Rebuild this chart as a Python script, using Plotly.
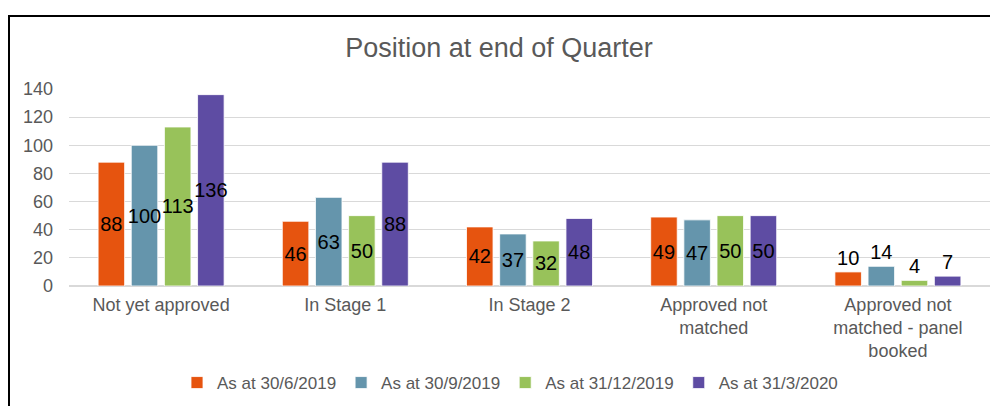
import plotly.graph_objects as go

categories = [
    'Not yet approved',
    'In Stage 1',
    'In Stage 2',
    'Approved not<br>matched',
    'Approved not<br>matched - panel<br>booked',
]
series_names = ['As at 30/6/2019', 'As at 30/9/2019', 'As at 31/12/2019', 'As at 31/3/2020']
q2_2019 = [88, 46, 42, 49, 10]
q3_2019 = [100, 63, 37, 47, 14]
q4_2019 = [113, 50, 32, 50, 4]
q1_2020 = [136, 88, 48, 50, 7]

colors = ['#E6540F', '#6595AC', '#98C25A', '#5E4CA3']
grey = '#595959'
font_family = 'Liberation Sans, Arial, sans-serif'

# the page puts the figure 8px in from the top-left, so work in page pixels
OFF = 8
W, H = 998 - OFF, 406 - OFF
plot_left, plot_right, plot_top, plot_bottom = 69, 990, 89, 286   # page px
L = plot_left - OFF
R = (W + OFF) - plot_right
T = plot_top - OFF
B = (H + OFF) - plot_bottom
pw, ph = plot_right - plot_left, plot_bottom - plot_top


def px_x(x):
    return (x - plot_left) / pw


def px_y(y):
    return (plot_bottom - y) / ph


fig = go.Figure()
for name, vals, col in zip(series_names, [q2_2019, q3_2019, q4_2019, q1_2020], colors):
    # last group is too short for labels inside the bar
    pos = ['inside'] * (len(vals) - 1) + ['outside']
    fig.add_trace(go.Bar(
        x=categories, y=vals, name=name,
        marker=dict(color=col, line=dict(color='white', width=0.8)),
        text=vals, textposition=pos, insidetextanchor='middle',
        textangle=0, constraintext='none', cliponaxis=False,
        textfont=dict(color='black', size=20, family=font_family),
    ))

fig.update_layout(
    width=W, height=H,
    margin=dict(l=L, r=R, t=T, b=B, autoexpand=False),
    paper_bgcolor='white', plot_bgcolor='white',
    barmode='group', bargap=0.28, bargroupgap=0.2,
    font=dict(family=font_family, color=grey, size=18),
    title=dict(text='Position at end of Quarter', x=(499 - OFF) / W, xanchor='center',
               y=1 - (48 - OFF) / H, yanchor='middle', yref='container',
               font=dict(size=27, color=grey, family=font_family)),
    legend=dict(orientation='h', x=px_x(510), xanchor='center',
                y=px_y(383), yanchor='middle',
                font=dict(size=17, color=grey), itemwidth=30, tracegroupgap=0),
    showlegend=True,
)
fig.update_yaxes(range=[0, 140], dtick=20, showgrid=True, gridcolor='#D9D9D9',
                 gridwidth=1, zeroline=True, zerolinecolor='#D9D9D9',
                 showline=False, ticklabelstandoff=15, automargin=False,
                 tickfont=dict(size=18, color=grey))
fig.update_xaxes(showline=True, linecolor='#D9D9D9', linewidth=1, tickangle=0,
                 automargin=False, tickfont=dict(size=18, color=grey),
                 ticklabelstandoff=2)

# chart frame: top and left edges only
fig.add_shape(type='line', xref='paper', yref='paper',
              x0=px_x(8), x1=px_x(998), y0=px_y(16), y1=px_y(16),
              line=dict(color='black', width=2))
fig.add_shape(type='line', xref='paper', yref='paper',
              x0=px_x(9), x1=px_x(9), y0=px_y(16), y1=px_y(406),
              line=dict(color='black', width=2))

fig.write_html('out.html')
